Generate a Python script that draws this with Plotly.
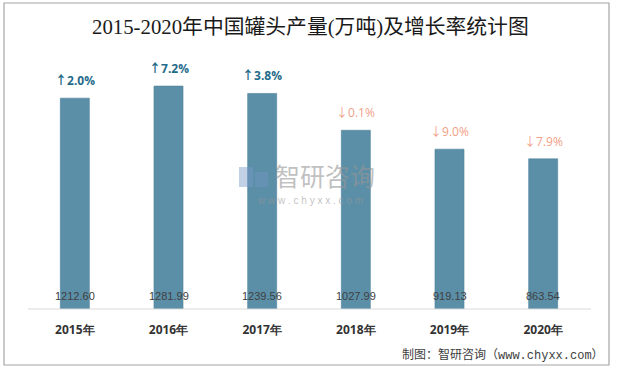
import plotly.graph_objects as go

years = ["2015年", "2016年", "2017年", "2018年", "2019年", "2020年"]
output = [1212.60, 1281.99, 1239.56, 1027.99, 919.13, 863.54]
growth = [2.0, 7.2, 3.8, -0.1, -9.0, -7.9]

W, H = 619, 370
L, R, T, B = 28, 29, 60, 61
pw, ph = W - L - R, H - T - B

def px(x):
    return (x - L) / pw

def py(y):
    return (H - B - y) / ph

fig = go.Figure()
fig.add_trace(go.Bar(
    x=years, y=output, width=0.31,
    marker=dict(color="#5B8FA8", line=dict(color="#4F829B", width=0.6)),
    hoverinfo="skip",
))

ann = []
for yr, v, g in zip(years, output, growth):
    ann.append(dict(x=yr, y=0, text=f"{v:.2f}", showarrow=False, yanchor="bottom", yshift=5,
                    font=dict(size=11, color="#404040", family="Liberation Sans, Arial")))
    arrow = "↑" if g >= 0 else "↓"
    num = f"{abs(g):.1f}%"
    txt = f"<span style='font-family:Noto Sans CJK SC'>{arrow}</span>{num}"
    if g >= 0:
        col = "#1F6B8A"
        txt = f"<b>{txt}</b>"
    else:
        col = "#F2A088"
    ann.append(dict(x=yr, y=v, text=txt, showarrow=False, yanchor="bottom", yshift=7,
                    font=dict(size=12, color=col, family="Open Sans, Arial")))

ann.append(dict(xref="paper", yref="paper", x=px(310), y=py(27), text="2015-2020年中国罐头产量(万吨)及增长率统计图",
                showarrow=False, xanchor="center", yanchor="middle",
                font=dict(size=20.8, color="#1A1A1A", family="Liberation Serif, Noto Sans CJK SC")))
ann.append(dict(xref="paper", yref="paper", x=px(606), y=py(355), text="制图：智研咨询（www.chyxx.com）",
                showarrow=False, xanchor="right", yanchor="middle",
                font=dict(size=12, color="#404040", family="Liberation Mono, Noto Sans CJK SC")))
# watermark
ann.append(dict(xref="paper", yref="paper", x=px(325), y=py(175), text="智研咨询",
                showarrow=False, xanchor="center", yanchor="middle",
                font=dict(size=25, color="rgba(150,150,150,0.6)", family="Noto Sans CJK SC")))
ann.append(dict(xref="paper", yref="paper", x=px(310), y=py(201), text="w w w . c h y x x . c o m",
                showarrow=False, xanchor="center", yanchor="middle",
                font=dict(size=10, color="rgba(150,150,150,0.6)", family="Liberation Sans, Arial")))

shapes = [
    dict(type="rect", xref="paper", yref="paper", x0=px(4), x1=px(609), y0=py(365), y1=py(3),
         line=dict(color="#A6A6A6", width=1.2), fillcolor="rgba(0,0,0,0)", layer="below"),
    dict(type="line", xref="paper", yref="paper", x0=px(28), x1=px(591), y0=py(309), y1=py(309),
         line=dict(color="#D9D9D9", width=1)),
    dict(type="rect", xref="paper", yref="paper", x0=px(239), x1=px(253), y0=py(187), y1=py(167),
         line=dict(width=0), fillcolor="rgba(120,150,200,0.45)"),
    dict(type="rect", xref="paper", yref="paper", x0=px(255), x1=px(268), y0=py(187), y1=py(172),
         line=dict(width=0), fillcolor="rgba(120,150,200,0.35)"),
]

fig.update_layout(
    width=W, height=H,
    margin=dict(l=L, r=R, t=T, b=B),
    paper_bgcolor="white", plot_bgcolor="white",
    showlegend=False,
    annotations=ann, shapes=shapes,
    xaxis=dict(showline=False, ticks="", showgrid=False, ticklabelstandoff=12,
               tickfont=dict(size=12, color="#333333", family="Open Sans, Arial", weight="bold")),
    yaxis=dict(visible=False, range=[0, 1432], showgrid=False),
    bargap=0.69,
)

fig.write_html("out.html", post_script="document.body.style.margin='0';",
               config={"displayModeBar": False})
